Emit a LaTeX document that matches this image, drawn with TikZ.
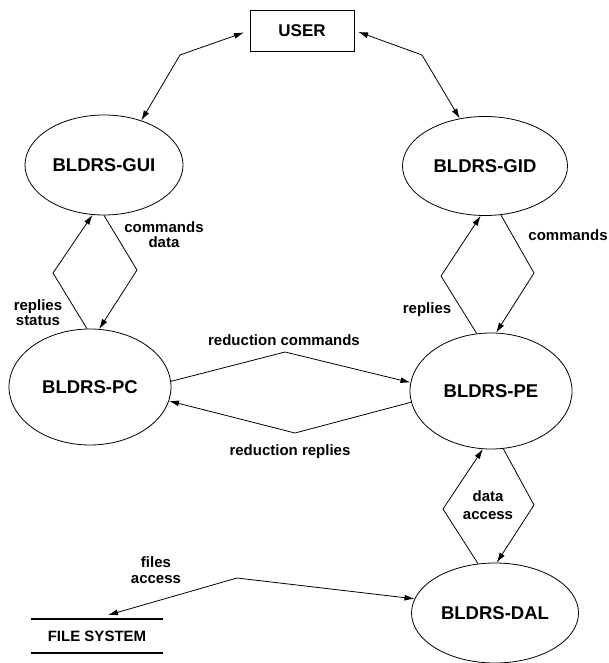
\documentclass[tikz,border=0pt]{standalone}
\usepackage{fontspec}
\setmainfont{Liberation Sans}
\usetikzlibrary{shapes.geometric,arrows.meta}

\begin{document}
\begin{tikzpicture}
[x=1pt,y=-1pt,line width=0.8pt,%
  >={Latex[length=10pt,width=6pt]},%
  proc/.style={shape=ellipse,draw,inner sep=0pt,%
    font=\fontsize{18.5}{20}\selectfont\bfseries},%
  lbl/.style={inner sep=0pt,align=center,%
    font=\fontsize{15}{15}\selectfont\bfseries}]
\useasboundingbox (0,0) rectangle (609,663);
\node[draw,minimum width=104pt,minimum height=41pt,%
  font=\fontsize{17}{20}\selectfont\bfseries] (user) at (302,30.5) {USER};
\node[proc,minimum width=158pt,minimum height=100pt] (gui) at (104,165) {BLDRS-GUI};
\node[proc,minimum width=165pt,minimum height=99pt] (gid) at (485,166) {BLDRS-GID};
\node[proc,minimum width=162pt,minimum height=116pt] (pc) at (90,387) {BLDRS-PC};
\node[proc,minimum width=162pt,minimum height=116pt] (pe) at (491,391) {BLDRS-PE};
\node[proc,minimum width=167pt,minimum height=100pt] (dal) at (495,613) {BLDRS-DAL};
\node[lbl,minimum width=132pt,minimum height=33pt] (fs) at (97,636) {FILE SYSTEM};
\draw[line width=1.8pt] (fs.north west) -- (fs.north east);
\draw[line width=1.8pt] (fs.south west) -- (fs.south east);
% labels
\node[lbl] (cmdl) at (164,235) {commands\\data};
\node[lbl] (rsl) at (38,313) {replies\\status};
\node[lbl] (cmdr) at (568,235) {commands};
\node[lbl] (repr) at (427,310) {replies};
\node[lbl] (redc) at (284,340) {reduction commands};
\node[lbl] (redr) at (290,452) {reduction replies};
\node[lbl,font=\fontsize{15}{18}\selectfont\bfseries] (dacc) at (488,505) {data\\access};
\node[lbl,font=\fontsize{15}{16}\selectfont\bfseries] (facc) at (156,570) {files\\access};
% bends
\coordinate (b1) at (180,55);
\coordinate (b2) at (422,55);
\coordinate (b3) at (137,270);
\coordinate (b4) at (53,273);
\coordinate (b5) at (441,276);
\coordinate (b6) at (534,273);
\coordinate (b7) at (285,352);
\coordinate (b8) at (295,433);
\coordinate (b9) at (443,509);
\coordinate (b10) at (534,505);
\coordinate (b11) at (237,578);
% connectors
\draw[<->,shorten >=6pt] (gui.50) -- (b1) -- (user.west);
\draw[<->,shorten >=4pt] (gid.118) -- (b2) -- (user.east);
\draw[->] (gui.south) -- (b3) -- (pc.81);
\draw[->] (pc.93) -- (b4) -- (gui.-103);
\draw[->] (pe.104) -- (b5) -- (gid.-95);
\draw[->] (gid.-72) -- (b6) -- (pe.85);
\draw[->] (pc.4) -- (b7) -- (pe.174);
\draw[->] (pe.188) -- (b8) -- (pc.-10);
\draw[->] (dal.109) -- (b9) -- (pe.-98);
\draw[->] (pe.-78) -- (b10) -- (dal.88);
\draw[<->] ([xshift=11pt,yshift=4pt]fs.north) -- (b11) -- (dal.170);
\end{tikzpicture}
\end{document}
